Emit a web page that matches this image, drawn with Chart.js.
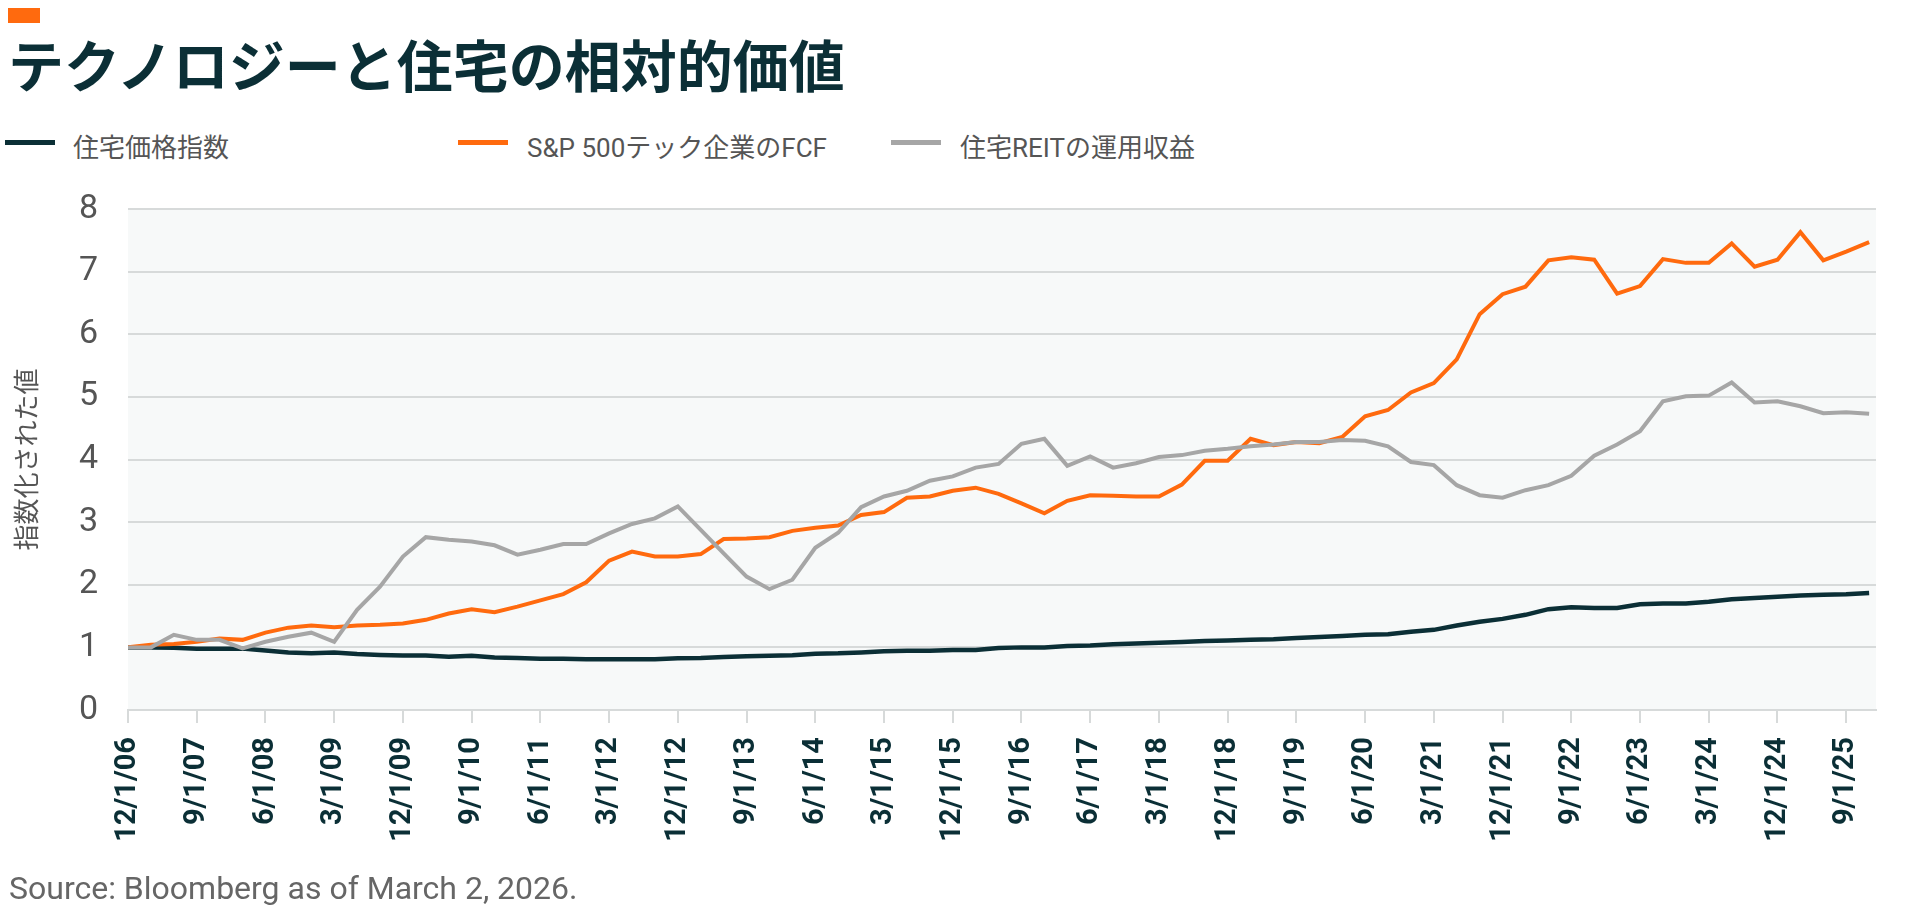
<!DOCTYPE html>
<html>
<head>
<meta charset="utf-8">
<script src="https://cdn.jsdelivr.net/npm/chart.js@4.4.1/dist/chart.umd.min.js"></script>
<style>
  body { margin: 0; width: 1920px; height: 914px; overflow: hidden; background: #fff; position: relative; }
  #mark { position: absolute; left: 8px; top: 8px; width: 32px; height: 15px; background: #ff6a0e; }
  #title { position: absolute; left: 8px; top: 22px; height: 56px; line-height: 56px; font: bold 56px "Noto Sans CJK JP"; color: #0b2f36; white-space: nowrap; }
  #legend { position: absolute; left: 0; top: 127px; height: 30px; width: 1920px; }
  .item { position: absolute; top: 0; height: 30px; line-height: 30px; font: 26px Roboto, "Noto Sans CJK JP"; color: #555; white-space: nowrap; }
  .swatch { position: absolute; top: 13px; width: 50px; height: 5px; }
  .item span.txt { position: absolute; top: 0; }
  #source { position: absolute; left: 9px; top: 870px; font: 32px Roboto; color: #666; white-space: nowrap; line-height: 36px; }
  #chart { position: absolute; left: 0; top: 0; }
</style>
</head>
<body>
<div id="mark"></div>
<div id="title">テクノロジーと住宅の相対的価値</div>
<div id="legend"></div>
<canvas id="chart" width="1920" height="914"></canvas>
<div id="source">Source: Bloomberg as of March 2, 2026.</div>
<script>
// quarterly dates, 12/1/06 .. 12/1/25
var quarterLabels = [
  '12/1/06',
  '3/1/07', '6/1/07', '9/1/07', '12/1/07',
  '3/1/08', '6/1/08', '9/1/08', '12/1/08',
  '3/1/09', '6/1/09', '9/1/09', '12/1/09',
  '3/1/10', '6/1/10', '9/1/10', '12/1/10',
  '3/1/11', '6/1/11', '9/1/11', '12/1/11',
  '3/1/12', '6/1/12', '9/1/12', '12/1/12',
  '3/1/13', '6/1/13', '9/1/13', '12/1/13',
  '3/1/14', '6/1/14', '9/1/14', '12/1/14',
  '3/1/15', '6/1/15', '9/1/15', '12/1/15',
  '3/1/16', '6/1/16', '9/1/16', '12/1/16',
  '3/1/17', '6/1/17', '9/1/17', '12/1/17',
  '3/1/18', '6/1/18', '9/1/18', '12/1/18',
  '3/1/19', '6/1/19', '9/1/19', '12/1/19',
  '3/1/20', '6/1/20', '9/1/20', '12/1/20',
  '3/1/21', '6/1/21', '9/1/21', '12/1/21',
  '3/1/22', '6/1/22', '9/1/22', '12/1/22',
  '3/1/23', '6/1/23', '9/1/23', '12/1/23',
  '3/1/24', '6/1/24', '9/1/24', '12/1/24',
  '3/1/25', '6/1/25', '9/1/25', '12/1/25'
];

// x ticks every 9 months (every 3rd quarter)
var tickIndex = [0, 3, 6, 9, 12, 15, 18, 21, 24, 27, 30, 33, 36, 39, 42, 45, 48, 51, 54, 57, 60, 63, 66, 69, 72, 75];

var housePrice = [
  1.00, 1.00, 0.995, 0.98, 0.98, 0.98, 0.95, 0.92, 0.905, 0.92,
  0.895, 0.88, 0.87, 0.87, 0.85, 0.865, 0.84, 0.83, 0.82, 0.82,
  0.81, 0.81, 0.81, 0.81, 0.825, 0.83, 0.845, 0.86, 0.865, 0.873,
  0.90, 0.905, 0.92, 0.937, 0.948, 0.948, 0.96, 0.96, 0.99, 1.00,
  1.00, 1.02, 1.03, 1.05, 1.06, 1.075, 1.086, 1.10, 1.11, 1.12,
  1.13, 1.15, 1.166, 1.18, 1.20, 1.21, 1.25, 1.28, 1.35, 1.41,
  1.455, 1.52, 1.61, 1.64, 1.63, 1.63, 1.69, 1.70, 1.70, 1.73,
  1.77, 1.79, 1.81, 1.83, 1.84, 1.85, 1.87
];

var techFCF = [
  1.00, 1.04, 1.055, 1.09, 1.14, 1.12, 1.235, 1.315, 1.35, 1.32,
  1.35, 1.36, 1.38, 1.44, 1.54, 1.61, 1.56, 1.65, 1.75, 1.85,
  2.04, 2.385, 2.53, 2.45, 2.45, 2.49, 2.73, 2.74, 2.76, 2.86,
  2.91, 2.945, 3.115, 3.16, 3.39, 3.41, 3.50, 3.55, 3.45, 3.30,
  3.14, 3.34, 3.43, 3.42, 3.41, 3.41, 3.60, 3.98, 3.98, 4.33,
  4.23, 4.28, 4.26, 4.36, 4.69, 4.79, 5.07, 5.22, 5.60, 6.32,
  6.64, 6.76, 7.18, 7.23, 7.19, 6.65, 6.77, 7.20, 7.14, 7.14,
  7.45, 7.08, 7.19, 7.63, 7.18, 7.32, 7.47
];

var reitOps = [
  1.00, 1.00, 1.20, 1.12, 1.12, 0.985, 1.09, 1.17, 1.235, 1.09,
  1.60, 1.97, 2.45, 2.76, 2.72, 2.69, 2.63, 2.48, 2.56, 2.65,
  2.65, 2.82, 2.97, 3.06, 3.25, 2.875, 2.50, 2.13, 1.93, 2.08,
  2.59, 2.83, 3.24, 3.41, 3.50, 3.66, 3.73, 3.87, 3.93, 4.25,
  4.33, 3.90, 4.05, 3.87, 3.94, 4.04, 4.07, 4.14, 4.17, 4.21,
  4.24, 4.28, 4.28, 4.31, 4.30, 4.21, 3.96, 3.91, 3.59, 3.43,
  3.39, 3.51, 3.59, 3.74, 4.06, 4.24, 4.45, 4.93, 5.01, 5.02,
  5.23, 4.91, 4.93, 4.85, 4.74, 4.755, 4.73
];

var seriesNames = ['住宅価格指数', 'S&P 500テック企業のFCF', '住宅REITの運用収益'];
var seriesColors = ['#0b2f36', '#ff6a0e', '#a6a6a6'];
var seriesValues = [housePrice, techFCF, reitOps];

var gridColor = '#d7dada';

function toPoints(values) {
  return values.map(function(v, i) { return { x: i, y: v }; });
}

// fill the plot area
var plotBg = {
  id: 'plotBg',
  beforeDraw: function(chart) {
    var a = chart.chartArea, ctx = chart.ctx;
    ctx.save();
    ctx.fillStyle = '#f7f9f9';
    ctx.fillRect(a.left, a.top, a.right - a.left, a.bottom - a.top);
    ctx.restore();
  }
};

// legend in html, laid out like the original
var legendPos = [[5, 73], [458, 527], [891, 960]];
var legend = document.getElementById('legend');
seriesNames.forEach(function(name, i) {
  var item = document.createElement('div');
  item.className = 'item';
  item.style.left = '0px';
  item.innerHTML = '<span class="swatch" style="left:' + legendPos[i][0] + 'px;background:' + seriesColors[i] + '"></span>' +
                   '<span class="txt" style="left:' + legendPos[i][1] + 'px"></span>';
  item.querySelector('.txt').textContent = name;
  legend.appendChild(item);
});

var datasets = seriesNames.map(function(name, i) {
  return {
    label: name,
    data: toPoints(seriesValues[i]),
    borderColor: seriesColors[i],
    backgroundColor: seriesColors[i],
    borderWidth: i === 0 ? 4.5 : 4,
    pointRadius: 0,
    tension: 0,
    fill: false,
    order: 2 - i
  };
});

var ctx = document.getElementById('chart').getContext('2d');
var myChart = new Chart(ctx, {
  type: 'line',
  data: { datasets: datasets },
  plugins: [plotBg],
  options: {
    responsive: false,
    animation: false,
    layout: { padding: { top: 209, right: 44, left: 0, bottom: 0 } },
    plugins: { legend: { display: false }, tooltip: { enabled: false } },
    scales: {
      x: {
        type: 'linear',
        min: 0,
        max: 76.3,
        afterBuildTicks: function(s) { s.ticks = tickIndex.map(function(v) { return { value: v }; }); },
        afterFit: function(s) { s.height = 204; },
        grid: { drawOnChartArea: false, drawTicks: true, tickLength: 13, color: gridColor, lineWidth: 2 },
        border: { display: true, color: gridColor, width: 2 },
        ticks: {
          autoSkip: false,
          minRotation: 90,
          maxRotation: 90,
          padding: 14,
          color: '#0b2f36',
          font: { family: 'Roboto', size: 29, weight: 'bold' },
          callback: function(v) { return quarterLabels[v]; }
        }
      },
      y: {
        min: 0,
        max: 8,
        afterFit: function(s) { s.width = 128; },
        grid: { drawTicks: false, color: gridColor, lineWidth: 2 },
        border: { display: false },
        ticks: { stepSize: 1, padding: 30, color: '#555', font: { family: 'Roboto', size: 34 } },
        title: {
          display: true,
          text: '指数化された値',
          color: '#555',
          font: { family: '"Noto Sans CJK JP"', size: 26 },
          padding: { top: 11, bottom: 0 }
        }
      }
    }
  }
});
</script>
</body>
</html>
